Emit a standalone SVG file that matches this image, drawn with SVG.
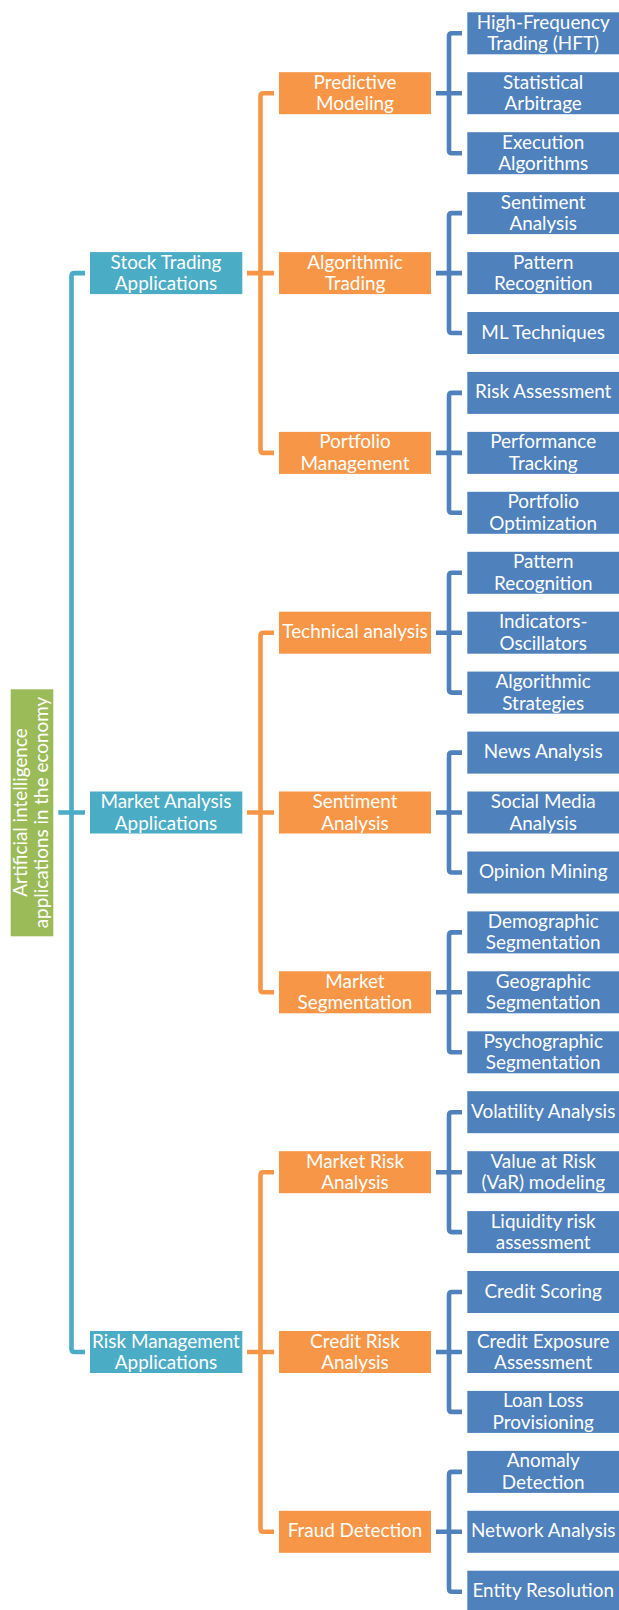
<svg xmlns="http://www.w3.org/2000/svg" width="619" height="1610" viewBox="0 0 619 1610">
<style>
.g{fill:#9BBB59}
.t{fill:#4BACC6}
.o{fill:#F79646}
.b{fill:#4F81BD}
text{font-family:Lato,"Open Sans",sans-serif;font-size:18.9px;fill:#FFFFFF;text-anchor:middle}
.ct{fill:none;stroke:#4BACC6;stroke-width:4.6}
.co{fill:none;stroke:#F79646;stroke-width:4.6}
.cb{fill:none;stroke:#4F81BD;stroke-width:4.6}
</style>
<rect width="619" height="1610" fill="#FFFFFF"/>
<g id="connectors">
<path class="ct" d="M85,273.1 H74.5 Q71.5,273.1 71.5,276.1 V1349 Q71.5,1352 74.5,1352 H85 M58.3,812.5 H85"/>
<path class="co" d="M274,93.2 H263.5 Q260.5,93.2 260.5,96.2 V449.9 Q260.5,452.9 263.5,452.9 H274 M247,273.1 H274"/>
<path class="co" d="M274,632.7 H263.5 Q260.5,632.7 260.5,635.7 V989.3 Q260.5,992.3 263.5,992.3 H274 M247,812.5 H274"/>
<path class="co" d="M274,1172.2 H263.5 Q260.5,1172.2 260.5,1175.2 V1528.8 Q260.5,1531.8 263.5,1531.8 H274 M247,1352 H274"/>
<path class="cb" d="M462,33.3 H452 Q449,33.3 449,36.3 V150.2 Q449,153.2 452,153.2 H462 M436,93.2 H462"/>
<path class="cb" d="M462,213.1 H452 Q449,213.1 449,216.1 V330 Q449,333 452,333 H462 M436,273.1 H462"/>
<path class="cb" d="M462,392.9 H452 Q449,392.9 449,395.9 V509.8 Q449,512.8 452,512.8 H462 M436,452.9 H462"/>
<path class="cb" d="M462,572.8 H452 Q449,572.8 449,575.8 V689.6 Q449,692.6 452,692.6 H462 M436,632.7 H462"/>
<path class="cb" d="M462,752.6 H452 Q449,752.6 449,755.6 V869.5 Q449,872.5 452,872.5 H462 M436,812.5 H462"/>
<path class="cb" d="M462,932.4 H452 Q449,932.4 449,935.4 V1049.3 Q449,1052.3 452,1052.3 H462 M436,992.3 H462"/>
<path class="cb" d="M462,1112.2 H452 Q449,1112.2 449,1115.2 V1229.1 Q449,1232.1 452,1232.1 H462 M436,1172.2 H462"/>
<path class="cb" d="M462,1292 H452 Q449,1292 449,1295 V1408.9 Q449,1411.9 452,1411.9 H462 M436,1352 H462"/>
<path class="cb" d="M462,1471.9 H452 Q449,1471.9 449,1474.9 V1588.7 Q449,1591.7 452,1591.7 H462 M436,1531.8 H462"/>
</g>
<g id="root"><rect class="g" x="10.7" y="689.3" width="42.6" height="247"/>
<g transform="translate(32,812.5) rotate(-90)"><text x="0" y="-5.5">Artificial intelligence</text><text x="0" y="16">applications in the economy</text></g></g>
<g id="stock-trading"><rect class="t" x="90" y="252.1" width="152.3" height="42"/><text x="166" y="268.6">Stock Trading</text><text x="166" y="290.1">Applications</text></g>
<g id="market-analysis"><rect class="t" x="90" y="791.5" width="152.3" height="42"/><text x="166" y="808">Market Analysis</text><text x="166" y="829.5">Applications</text></g>
<g id="risk-management"><rect class="t" x="90" y="1331" width="152.3" height="42"/><text x="166" y="1347.5">Risk Management</text><text x="166" y="1369">Applications</text></g>
<g id="predictive-modeling"><rect class="o" x="279" y="72.2" width="152" height="42"/><text x="355" y="88.7">Predictive</text><text x="355" y="110.2">Modeling</text></g>
<g id="algorithmic-trading"><rect class="o" x="279" y="252.1" width="152" height="42"/><text x="355" y="268.6">Algorithmic</text><text x="355" y="290.1">Trading</text></g>
<g id="portfolio-management"><rect class="o" x="279" y="431.9" width="152" height="42"/><text x="355" y="448.4">Portfolio</text><text x="355" y="469.9">Management</text></g>
<g id="technical-analysis"><rect class="o" x="279" y="611.7" width="152" height="42"/><text x="355" y="638.2">Technical analysis</text></g>
<g id="sentiment-analysis-o"><rect class="o" x="279" y="791.5" width="152" height="42"/><text x="355" y="808">Sentiment</text><text x="355" y="829.5">Analysis</text></g>
<g id="market-segmentation"><rect class="o" x="279" y="971.3" width="152" height="42"/><text x="355" y="987.8">Market</text><text x="355" y="1009.3">Segmentation</text></g>
<g id="market-risk"><rect class="o" x="279" y="1151.2" width="152" height="42"/><text x="355" y="1167.7">Market Risk</text><text x="355" y="1189.2">Analysis</text></g>
<g id="credit-risk"><rect class="o" x="279" y="1331" width="152" height="42"/><text x="355" y="1347.5">Credit Risk</text><text x="355" y="1369">Analysis</text></g>
<g id="fraud-detection"><rect class="o" x="279" y="1510.8" width="152" height="42"/><text x="355" y="1537.3">Fraud Detection</text></g>
<g id="l0"><rect class="b" x="467.3" y="12.3" width="151.7" height="42"/><text x="543.2" y="28.8">High-Frequency</text><text x="543.2" y="50.3">Trading (HFT)</text></g>
<g id="l1"><rect class="b" x="467.3" y="72.2" width="151.7" height="42"/><text x="543.2" y="88.7">Statistical</text><text x="543.2" y="110.2">Arbitrage</text></g>
<g id="l2"><rect class="b" x="467.3" y="132.2" width="151.7" height="42"/><text x="543.2" y="148.7">Execution</text><text x="543.2" y="170.2">Algorithms</text></g>
<g id="l3"><rect class="b" x="467.3" y="192.1" width="151.7" height="42"/><text x="543.2" y="208.6">Sentiment</text><text x="543.2" y="230.1">Analysis</text></g>
<g id="l4"><rect class="b" x="467.3" y="252.1" width="151.7" height="42"/><text x="543.2" y="268.6">Pattern</text><text x="543.2" y="290.1">Recognition</text></g>
<g id="l5"><rect class="b" x="467.3" y="312" width="151.7" height="42"/><text x="543.2" y="338.5">ML Techniques</text></g>
<g id="l6"><rect class="b" x="467.3" y="371.9" width="151.7" height="42"/><text x="543.2" y="398.4">Risk Assessment</text></g>
<g id="l7"><rect class="b" x="467.3" y="431.9" width="151.7" height="42"/><text x="543.2" y="448.4">Performance</text><text x="543.2" y="469.9">Tracking</text></g>
<g id="l8"><rect class="b" x="467.3" y="491.8" width="151.7" height="42"/><text x="543.2" y="508.3">Portfolio</text><text x="543.2" y="529.8">Optimization</text></g>
<g id="l9"><rect class="b" x="467.3" y="551.8" width="151.7" height="42"/><text x="543.2" y="568.3">Pattern</text><text x="543.2" y="589.8">Recognition</text></g>
<g id="l10"><rect class="b" x="467.3" y="611.7" width="151.7" height="42"/><text x="543.2" y="628.2">Indicators-</text><text x="543.2" y="649.7">Oscillators</text></g>
<g id="l11"><rect class="b" x="467.3" y="671.6" width="151.7" height="42"/><text x="543.2" y="688.1">Algorithmic</text><text x="543.2" y="709.6">Strategies</text></g>
<g id="l12"><rect class="b" x="467.3" y="731.6" width="151.7" height="42"/><text x="543.2" y="758.1">News Analysis</text></g>
<g id="l13"><rect class="b" x="467.3" y="791.5" width="151.7" height="42"/><text x="543.2" y="808">Social Media</text><text x="543.2" y="829.5">Analysis</text></g>
<g id="l14"><rect class="b" x="467.3" y="851.5" width="151.7" height="42"/><text x="543.2" y="878">Opinion Mining</text></g>
<g id="l15"><rect class="b" x="467.3" y="911.4" width="151.7" height="42"/><text x="543.2" y="927.9">Demographic</text><text x="543.2" y="949.4">Segmentation</text></g>
<g id="l16"><rect class="b" x="467.3" y="971.3" width="151.7" height="42"/><text x="543.2" y="987.8">Geographic</text><text x="543.2" y="1009.3">Segmentation</text></g>
<g id="l17"><rect class="b" x="467.3" y="1031.3" width="151.7" height="42"/><text x="543.2" y="1047.8">Psychographic</text><text x="543.2" y="1069.3">Segmentation</text></g>
<g id="l18"><rect class="b" x="467.3" y="1091.2" width="151.7" height="42"/><text x="543.2" y="1117.7">Volatility Analysis</text></g>
<g id="l19"><rect class="b" x="467.3" y="1151.2" width="151.7" height="42"/><text x="543.2" y="1167.7">Value at Risk</text><text x="543.2" y="1189.2">(VaR) modeling</text></g>
<g id="l20"><rect class="b" x="467.3" y="1211.1" width="151.7" height="42"/><text x="543.2" y="1227.6">Liquidity risk</text><text x="543.2" y="1249.1">assessment</text></g>
<g id="l21"><rect class="b" x="467.3" y="1271" width="151.7" height="42"/><text x="543.2" y="1297.5">Credit Scoring</text></g>
<g id="l22"><rect class="b" x="467.3" y="1331" width="151.7" height="42"/><text x="543.2" y="1347.5">Credit Exposure</text><text x="543.2" y="1369">Assessment</text></g>
<g id="l23"><rect class="b" x="467.3" y="1390.9" width="151.7" height="42"/><text x="543.2" y="1407.4">Loan Loss</text><text x="543.2" y="1428.9">Provisioning</text></g>
<g id="l24"><rect class="b" x="467.3" y="1450.9" width="151.7" height="42"/><text x="543.2" y="1467.4">Anomaly</text><text x="543.2" y="1488.9">Detection</text></g>
<g id="l25"><rect class="b" x="467.3" y="1510.8" width="151.7" height="42"/><text x="543.2" y="1537.3">Network Analysis</text></g>
<g id="l26"><rect class="b" x="467.3" y="1570.7" width="151.7" height="42"/><text x="543.2" y="1597.2">Entity Resolution</text></g>
</svg>
